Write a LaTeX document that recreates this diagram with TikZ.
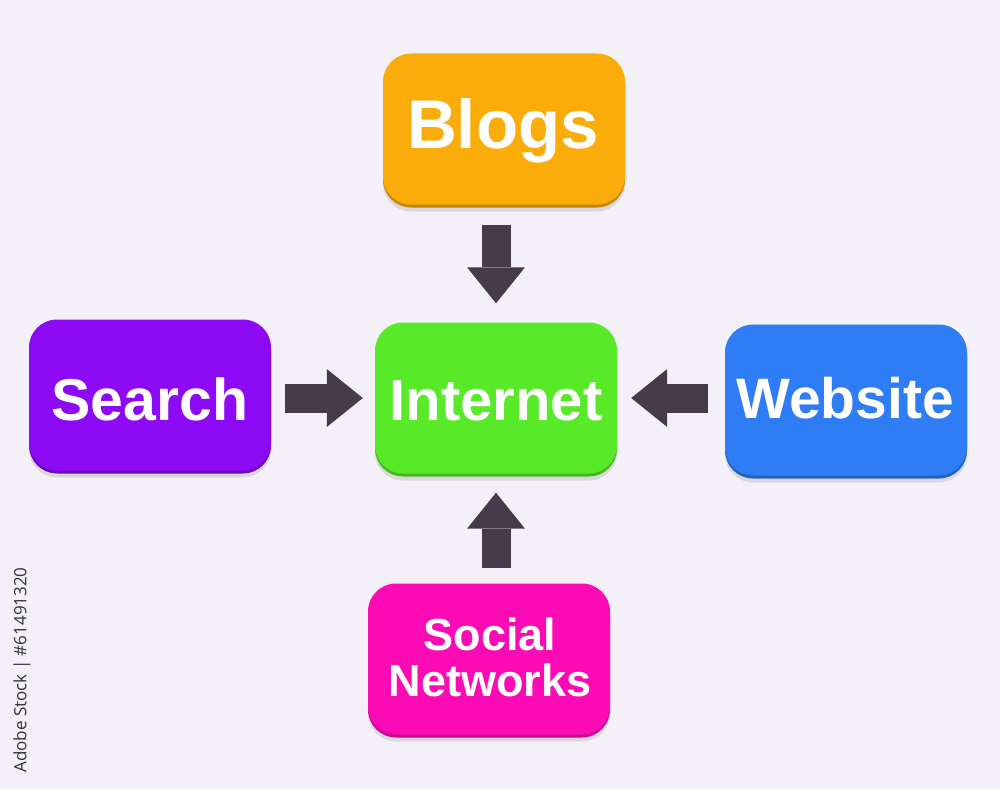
\documentclass[tikz,border=0pt]{standalone}
\usepackage{fontspec}
\setmainfont{Liberation Sans}
\newfontfamily\wmfont{Open Sans}
\usetikzlibrary{arrows.meta,calc}
\definecolor{bg}{HTML}{F4F0F7}
\definecolor{cOrange}{HTML}{FAAC0B}
\definecolor{cGreen}{HTML}{58EA29}
\definecolor{cPurple}{HTML}{8D0BF4}
\definecolor{cBlue}{HTML}{2F7DF5}
\definecolor{cPink}{HTML}{FA0BB4}
\definecolor{cArrow}{HTML}{463A4B}
\definecolor{cWm}{HTML}{333333}
\tikzset{
  box/.style={rounded corners=28pt, minimum width=242pt, minimum height=151pt,
    inner sep=0pt, fill=#1,
    preaction={fill=black, opacity=.10, transform canvas={yshift=-7pt}},
    preaction={fill=#1!78!black, transform canvas={yshift=-3pt}}},
  txt/.style={text=white, inner sep=0pt, font=\bfseries\fontsize{#1}{#1}\selectfont},
  conn/.style={draw=cArrow, line width=29pt,
    -{Triangle[width=58pt,length=36pt,line width=0pt]}}
}
\begin{document}
\begin{tikzpicture}[x=1pt,y=-1pt]
\fill[bg] (0,0) rectangle (1000,789);
\useasboundingbox (0,0) rectangle (1000,789);

\node[box=cOrange] (blogs) at (504,129) {};
\node[box=cGreen] (internet) at (496,398) {};
\node[box=cPurple] (search) at (150,395) {};
\node[box=cBlue] (website) at (846,400) {};
\node[box=cPink] (social) at (489,659) {};

\node[txt=69, anchor=base] (tblogs) at (503,148) {Blogs};
\node[txt=58, anchor=base] (tinternet) at (496,420) {Internet};
\node[txt=59, anchor=base] (tsearch) at (150,420) {Search};
\node[txt=57, anchor=base] (twebsite) at (845,418) {Website};
\node[txt=45, align=center, font=\bfseries\fontsize{45}{46}\selectfont] (tsocial) at (490,657) {Social\\Networks};

\draw[conn, shorten <=20pt, shorten >=19pt] (blogs.south -| internet.north) -- (internet.north);
\draw[conn, shorten <=15pt, shorten >=19pt] (social.north -| internet.south) -- (internet.south);
\draw[conn, shorten <=14pt, shorten >=12pt] (search.east |- internet.west) -- (internet.west);
\draw[conn, shorten <=17pt, shorten >=14pt] (website.west |- internet.east) -- (internet.east);

\node[rotate=90, text=cWm, inner sep=0pt, font=\wmfont\fontsize{17}{17}\selectfont] (stock) at (22,670) {Adobe Stock | \#61491320};
\end{tikzpicture}
\end{document}
